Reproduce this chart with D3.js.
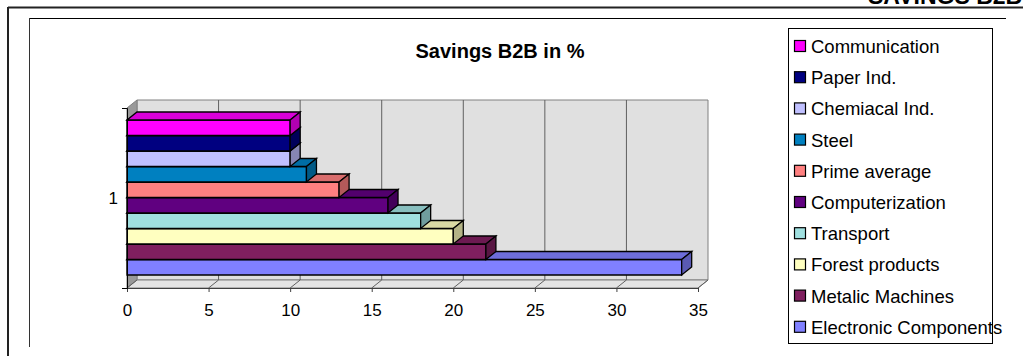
<!DOCTYPE html>
<html>
<head>
<meta charset="utf-8">
<script src="https://cdn.jsdelivr.net/npm/d3@7"></script>
<style>
  html, body { margin: 0; padding: 0; background: #fff; }
  svg { display: block; font-family: "Liberation Sans", Arial, sans-serif; }
</style>
</head>
<body>
<svg id="chart" width="1023" height="356"></svg>
<script>
// Series, from the bottom bar to the top bar
const categories = [
  "Electronic Components", "Metalic Machines", "Forest products", "Transport",
  "Computerization", "Prime average", "Steel", "Chemiacal Ind.", "Paper Ind.", "Communication"
];
const values = [34, 22, 20, 18, 16, 13, 11, 10, 10, 10];
const colors = [
  "#8080ff", "#7f1f5f", "#ffffc0", "#a0e0e0", "#600080",
  "#ff8080", "#0080c0", "#c0c0ff", "#000080", "#ff00ff"
];
const xTicks = [0, 5, 10, 15, 20, 25, 30, 35];
const groupLabel = "1";
const title = "Savings B2B in %";
const heading = "SAVINGS B2B";

const svg = d3.select("#chart");

// Page frames
svg.append("line").attr("x1", 8).attr("x2", 1023).attr("y1", 7.5).attr("y2", 7.5)
  .attr("stroke", "#222").attr("stroke-width", 2);
svg.append("line").attr("x1", 8).attr("x2", 8).attr("y1", 7).attr("y2", 356)
  .attr("stroke", "#222").attr("stroke-width", 2);
svg.append("line").attr("x1", 29.5).attr("x2", 1006).attr("y1", 18.5).attr("y2", 18.5)
  .attr("stroke", "#000").attr("stroke-width", 1);
svg.append("line").attr("x1", 29.5).attr("x2", 29.5).attr("y1", 18).attr("y2", 347)
  .attr("stroke", "#333").attr("stroke-width", 1);

// Page heading, running off the top edge
svg.append("text").attr("x", 868).attr("y", 4)
  .attr("font-size", 23).attr("font-weight", "bold").text(heading);

// Chart title
svg.append("text").attr("x", 500).attr("y", 58).attr("text-anchor", "middle")
  .attr("font-size", 20).attr("font-weight", "bold").text(title);

// Scales
const x = d3.scaleLinear().domain([0, 35]).range([127, 698]);
const y = d3.scaleBand().domain(categories).range([275, 120]).padding(0);
const depth = { dx: 10, dy: -8 };
const yTop = 108, yBottom = 288;

const pts = a => a.map(p => p.join(",")).join(" ");
const g = svg.append("g");

// Back wall
g.append("polygon")
  .attr("points", pts([[x(0) + depth.dx, yTop + depth.dy], [x(35) + depth.dx, yTop + depth.dy],
                       [x(35) + depth.dx, yBottom + depth.dy], [x(0) + depth.dx, yBottom + depth.dy]]))
  .attr("fill", "#e0e0e0").attr("stroke", "#808080");
// Side wall
g.append("polygon")
  .attr("points", pts([[x(0), yTop], [x(0) + depth.dx, yTop + depth.dy],
                       [x(0) + depth.dx, yBottom + depth.dy], [x(0), yBottom]]))
  .attr("fill", "#999999").attr("stroke", "#808080");
// Floor
g.append("polygon")
  .attr("points", pts([[x(0), yBottom], [x(0) + depth.dx, yBottom + depth.dy],
                       [x(35) + depth.dx, yBottom + depth.dy], [x(35), yBottom]]))
  .attr("fill", "#e4e4e4").attr("stroke", "#808080");

// Gridlines on back wall and floor
xTicks.slice(1, -1).forEach(t => {
  g.append("line")
    .attr("x1", x(t) + depth.dx).attr("x2", x(t) + depth.dx)
    .attr("y1", yTop + depth.dy).attr("y2", yBottom + depth.dy)
    .attr("stroke", "#606060");
});
xTicks.forEach(t => {
  g.append("line")
    .attr("x1", x(t)).attr("y1", yBottom).attr("x2", x(t) + depth.dx).attr("y2", yBottom + depth.dy)
    .attr("stroke", "#606060");
});

// Bars, drawn bottom to top so upper bars cover the top faces below
categories.forEach((c, i) => {
  const v = values[i];
  const x0 = x(0), x1 = x(v);
  const yt = y(c), yb = y(c) + y.bandwidth();
  const col = d3.color(colors[i]);
  const bar = g.append("g");
  bar.append("polygon")
    .attr("points", pts([[x0, yt], [x1, yt], [x1, yb], [x0, yb]]))
    .attr("fill", col.formatHex()).attr("stroke", "#000").attr("stroke-width", 1.3);
  bar.append("polygon")
    .attr("points", pts([[x0, yt], [x0 + depth.dx, yt + depth.dy], [x1 + depth.dx, yt + depth.dy], [x1, yt]]))
    .attr("fill", col.darker(0.45).formatHex()).attr("stroke", "#000").attr("stroke-width", 1.3);
  bar.append("polygon")
    .attr("points", pts([[x1, yt], [x1 + depth.dx, yt + depth.dy], [x1 + depth.dx, yb + depth.dy], [x1, yb]]))
    .attr("fill", col.darker(1).formatHex()).attr("stroke", "#000").attr("stroke-width", 1.3);
});

// Axes
const xAxis = d3.axisBottom(x).tickValues(xTicks).tickSize(4).tickPadding(12);
const ax = svg.append("g").attr("transform", `translate(0,${yBottom})`).call(xAxis);
ax.select(".domain").attr("stroke", "#404040");
ax.selectAll(".tick line").attr("stroke", "#404040");
ax.selectAll("text").attr("font-size", 17).attr("fill", "#000")
  .attr("font-family", "Liberation Sans, Arial, sans-serif");

const yScale = d3.scaleLinear().domain([0, 1]).range([yBottom, yTop]);
const yAxis = d3.axisLeft(yScale).tickValues([0, 1]).tickSize(5).tickFormat("");
const ay = svg.append("g").attr("transform", `translate(${x(0)},0)`).call(yAxis);
ay.select(".domain").attr("stroke", "#000");
ay.selectAll(".tick line").attr("stroke", "#000");

svg.append("text").attr("x", 118).attr("y", (yTop + yBottom) / 2 + 6)
  .attr("text-anchor", "end").attr("font-size", 17).text(groupLabel);

// Legend, listed top bar first
const legend = svg.append("g");
legend.append("rect").attr("x", 788.5).attr("y", 28.5).attr("width", 204).attr("height", 315)
  .attr("fill", "#fff").attr("stroke", "#000");
const legendOrder = categories.map((c, i) => i).reverse();
legendOrder.forEach((i, k) => {
  const cy = 46 + k * 31.2;
  legend.append("rect").attr("x", 794.5).attr("y", cy - 5.5).attr("width", 11).attr("height", 11)
    .attr("fill", colors[i]).attr("stroke", "#000").attr("stroke-width", 1.2);
  legend.append("text").attr("x", 811).attr("y", cy + 7)
    .attr("font-size", 18.5).text(categories[i]);
});
</script>
</body>
</html>
